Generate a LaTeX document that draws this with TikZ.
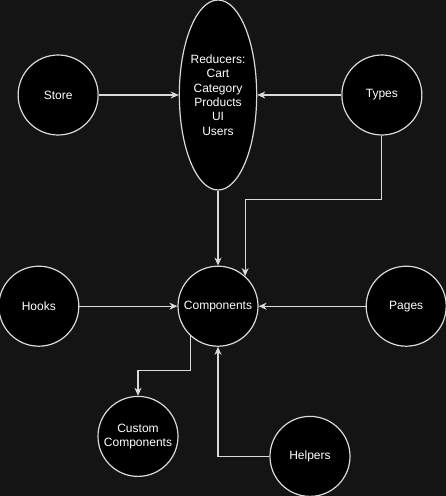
\documentclass[tikz,border=0pt]{standalone}
\usepackage{fontspec}
\setmainfont{Liberation Sans}
\usepackage{tikz}
\usetikzlibrary{positioning, arrows.meta, shapes.geometric}
\definecolor{bgdark}{RGB}{20,20,20}
\definecolor{edgegray}{RGB}{218,218,218}

\begin{document}
\begin{tikzpicture}[x=1pt, y=1pt,
		module/.style={circle, draw=edgegray, fill=black, text=white, line width=1.2pt, minimum size=80pt, inner sep=0pt, align=center, font=\fontsize{12}{14.4}\selectfont},
		link/.style={draw=edgegray, line width=1.2pt, -{Stealth[length=8pt, width=7pt, inset=2.5pt]}}]
		
		\fill[bgdark] (0,0) rectangle (446,-496);
		\useasboundingbox (0,0) rectangle (446,-496);
		
		\node[module, ellipse, minimum width=76pt, minimum height=190pt] (reducers) at (218,-95) {Reducers:\\Cart\\Category\\Products\\UI\\Users};
		\node[module, left=80pt of reducers] (store) {Store};
		\node[module, right=84pt of reducers] (types) {Types};
		\draw[link] (store) -- (reducers);
		\draw[link] (types) -- (reducers);
		
		\node[module, below=75pt of reducers] (comp) {Components};
		\node[module, left=98pt of comp] (hooks) {Hooks};
		\node[module, right=107pt of comp] (pages) {Pages};
		\draw[link] (reducers) -- (comp);
		\draw[link] (types.south) -- ++(0,-64) -| (comp.48);
		\draw[link] (hooks) -- (comp);
		\draw[link] (pages) -- (comp);
		
		\node[module, below=49pt of comp, xshift=-80pt] (custom) {Custom\\Components};
		\node[module, below=69pt of comp, xshift=92pt] (helpers) {Helpers};
		\draw[link] (comp.227) -- ++(0,-35) -| (custom.north);
		\draw[link] (helpers.west) -| (comp.south);
		
	\end{tikzpicture}
\end{document}
